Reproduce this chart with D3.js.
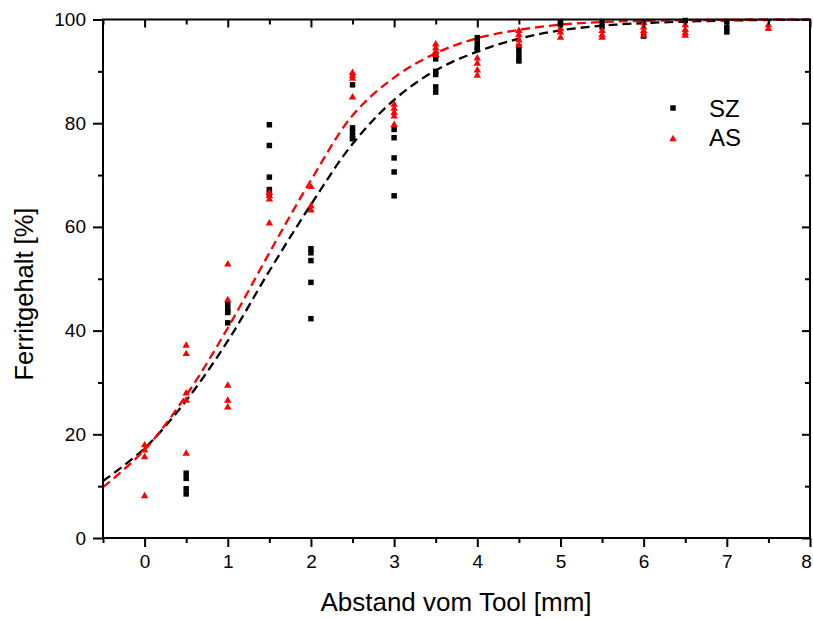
<!DOCTYPE html>
<html>
<head>
<meta charset="utf-8">
<script src="https://cdn.jsdelivr.net/npm/d3@7"></script>
<style>
  html, body { margin: 0; padding: 0; background: #fff; }
  svg { display: block; font-family: "Liberation Sans", Arial, sans-serif; }
</style>
</head>
<body>
<svg id="chart" width="813" height="619"></svg>
<script>
// ---- data ----
const szX = [0.5,0.5,0.5,0.5, 1,1,1,1, 1.5,1.5,1.5,1.5,1.5, 2,2,2,2,2, 2.5,2.5,2.5,2.5,2.5,
             3,3,3,3,3, 3.5,3.5,3.5,3.5,3.5,3.5, 4,4,4,4, 4.5,4.5,4.5,4.5, 5,5, 5.5,5.5, 6,6, 6.5, 7,7,7];
const szY = [12.5,11.5,9.5,8.5, 45,44,43.5,41.5, 79.7,75.7,69.6,67.2,66.5, 55.8,55,53.5,49.3,42.3,
             87.4,79.1,78.3,77.5,77, 78.8,77.2,73.3,70.6,66, 93.2,92.4,90,89.4,87,86,
             96.5,95.5,94.6,94.2, 94.8,93.8,92.8,92, 99.6,99, 99.6,98.6, 99.5,96.8, 99.8, 99.6,98.5,97.6];
const asX = [0,0,0,0, 0.5,0.5,0.5,0.5,0.5, 1,1,1,1,1, 1.5,1.5,1.5,1.5, 2,2,2, 2.5,2.5,2.5,2.5,
             3,3,3,3,3, 3.5,3.5,3.5,3.5, 4,4,4,4, 4.5,4.5,4.5,4.5, 5,5,5, 5.5,5.5,5.5,
             6,6,6,6, 6.5,6.5,6.5,6.5, 7.5,7.5];
const asY = [17.9,16.9,15.6,8.1, 37.1,35.5,27.9,26.5,16.3, 52.8,45.9,29.4,26.5,25.2, 66.6,66,65.3,60.7,
             67.7,64,63.2, 89.7,89.2,88.6,85, 83.6,82.8,82,81.3,79.7, 95.2,94.5,93.8,93.2,
             92.5,91.5,90.2,89.2, 97.8,97,96,95, 98.2,97.5,96.5, 97.8,97,96.5,
             99.3,98.5,97.8,96.9, 98.9,98,97.4,96.9, 98.9,98.2];
// fitted curves
const fitX  = [-0.5, 0, 0.5, 1, 1.5, 2, 2.5, 3, 3.5, 4, 4.5, 5, 5.5, 6, 7, 8];
const fitSZ = [11, 17.3, 26.5, 38, 51.5, 64.3, 76, 84.5, 90.2, 93.8, 96.3, 97.9, 98.8, 99.3, 99.8, 99.95];
const fitAS = [9.8, 17, 27.5, 40.5, 55, 69, 81.5, 88.8, 93.5, 96.4, 98, 99, 99.5, 99.75, 99.93, 100];
const xTicks = [0,1,2,3,4,5,6,7,8];
const yTicks = [0,20,40,60,80,100];
const seriesNames = ["SZ", "AS"];
const xTitle = "Abstand vom Tool [mm]";
const yTitle = "Ferritgehalt [%]";

// ---- layout ----
const L = 103, R = 810, T = 19.5, B = 538;
const svg = d3.select("#chart");
const x = d3.scaleLinear().domain([-0.5, 8]).range([L, R]);
const y = d3.scaleLinear().domain([0, 100]).range([B, T]);

svg.append("clipPath").attr("id", "plotclip")
  .append("rect").attr("x", L).attr("y", T - 2).attr("width", R - L).attr("height", B - T + 2);

// curves
const line = d3.line().x((d, i) => x(fitX[i])).y(d => y(d)).curve(d3.curveCatmullRom.alpha(0.5));
const gCurves = svg.append("g").attr("clip-path", "url(#plotclip)");
gCurves.append("path").attr("d", line(fitSZ)).attr("fill", "none")
  .attr("stroke", "#000").attr("stroke-width", 2.3).attr("stroke-dasharray", "9,5");
gCurves.append("path").attr("d", line(fitAS)).attr("fill", "none")
  .attr("stroke", "#ff0000").attr("stroke-width", 2.3).attr("stroke-dasharray", "9,5");

// points
const sq = d3.symbol(d3.symbolSquare, 30);
const tri = d3.symbol(d3.symbolTriangle, 24);
svg.append("g").selectAll("path").data(szX).join("path")
  .attr("d", sq).attr("transform", (d, i) => `translate(${x(d)},${y(szY[i])})`).attr("fill", "#000");
svg.append("g").selectAll("path").data(asX).join("path")
  .attr("d", tri).attr("transform", (d, i) => `translate(${x(d)},${y(asY[i])})`).attr("fill", "#ff0000");

// axes
const fs = 19;
const axB = svg.append("g").attr("transform", `translate(0,${B})`)
  .call(d3.axisBottom(x).tickValues(xTicks).tickSize(9).tickPadding(8).tickFormat(d3.format("d")));
const axBm = svg.append("g").attr("transform", `translate(0,${B})`)
  .call(d3.axisBottom(x).tickValues(d3.range(-0.5, 8, 1)).tickSize(5).tickFormat(""));
const axL = svg.append("g").attr("transform", `translate(${L},0)`)
  .call(d3.axisLeft(y).tickValues(yTicks).tickSize(10).tickPadding(7));
const axLm = svg.append("g").attr("transform", `translate(${L},0)`)
  .call(d3.axisLeft(y).tickValues([10,30,50,70,90]).tickSize(5).tickFormat(""));
const axT = svg.append("g").attr("transform", `translate(0,${T})`)
  .call(d3.axisBottom(x).tickValues(xTicks).tickSize(8).tickFormat(""));
const axTm = svg.append("g").attr("transform", `translate(0,${T})`)
  .call(d3.axisBottom(x).tickValues(d3.range(-0.5, 8, 1)).tickSize(5).tickFormat(""));
const axR = svg.append("g").attr("transform", `translate(${R},0)`)
  .call(d3.axisLeft(y).tickValues(yTicks).tickSize(8).tickFormat(""));
const axRm = svg.append("g").attr("transform", `translate(${R},0)`)
  .call(d3.axisLeft(y).tickValues([10,30,50,70,90]).tickSize(5).tickFormat(""));
[axB, axBm, axL, axLm, axT, axTm, axR, axRm].forEach(g => {
  g.select(".domain").remove();
  g.selectAll(".tick line").attr("stroke", "#000").attr("stroke-width", 2);
  g.selectAll("text").attr("font-size", fs).attr("fill", "#000")
    .attr("font-family", "Liberation Sans, Arial, sans-serif");
});
// keep the last x label inside the window
axB.selectAll(".tick text").filter(d => d === 8).attr("dx", -4);

// frame
svg.append("rect").attr("x", L).attr("y", T).attr("width", R - L).attr("height", B - T)
  .attr("fill", "none").attr("stroke", "#000").attr("stroke-width", 2);

// titles
svg.append("text").attr("x", 456).attr("y", 611).attr("text-anchor", "middle")
  .attr("font-size", 26).text(xTitle);
svg.append("text").attr("transform", `translate(33,${294}) rotate(-90)`).attr("text-anchor", "middle")
  .attr("font-size", 25.5).text(yTitle);

// legend
const lg = svg.append("g");
lg.append("path").attr("d", sq).attr("transform", "translate(673,108)").attr("fill", "#000");
lg.append("path").attr("d", tri).attr("transform", "translate(673,139)").attr("fill", "#ff0000");
lg.append("text").attr("x", 709).attr("y", 117).attr("font-size", 24).text(seriesNames[0]);
lg.append("text").attr("x", 709).attr("y", 146).attr("font-size", 24).text(seriesNames[1]);
</script>
</body>
</html>
